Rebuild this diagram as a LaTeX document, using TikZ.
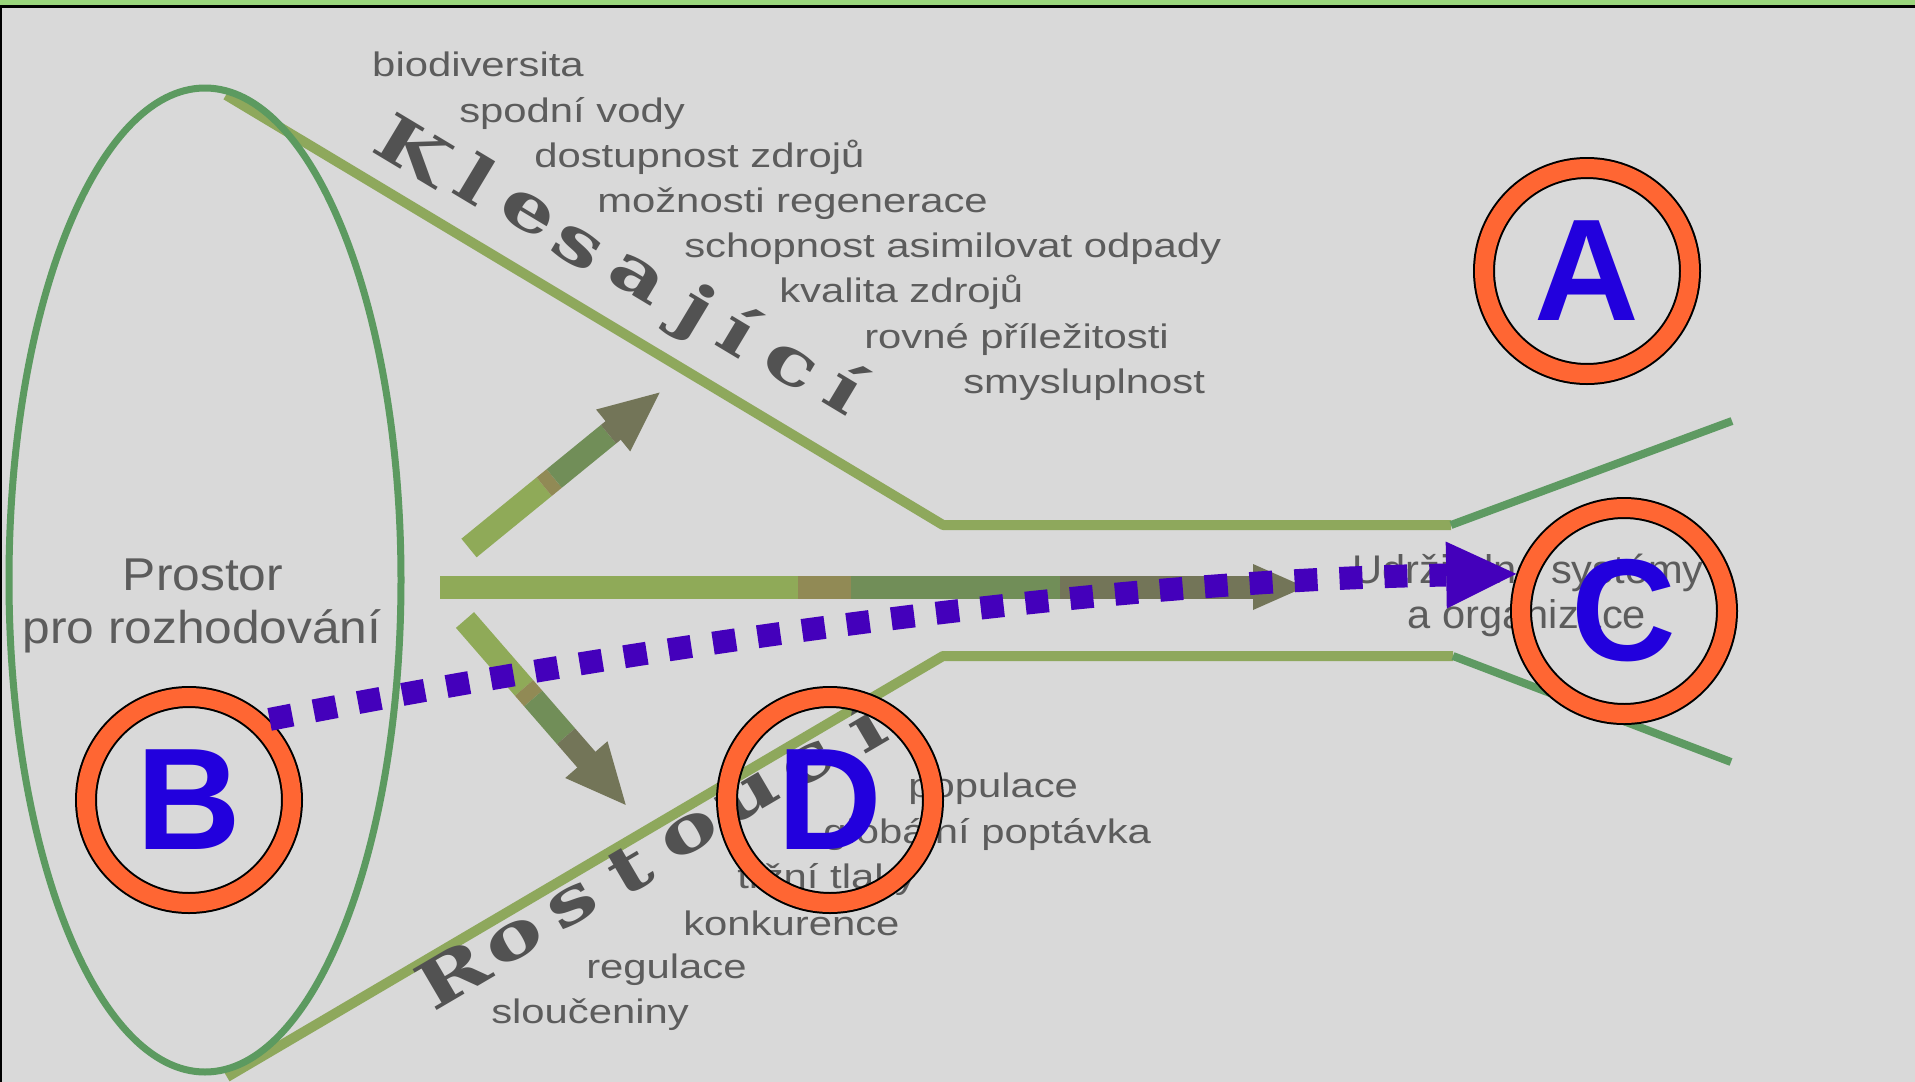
\documentclass[tikz,border=0pt]{standalone}
\usepackage{fontspec}
\setmainfont{Liberation Sans}
\newfontfamily\slabfont{DejaVu Serif}
\usetikzlibrary{arrows.meta}

\definecolor{bg}{HTML}{D9D9D9}
\definecolor{topbar}{HTML}{9AD67C}
\definecolor{funnelgreen}{HTML}{8EA85C}
\definecolor{flaregreen}{HTML}{5E9A62}
\definecolor{ellipsegreen}{HTML}{5C9A60}
\definecolor{txt}{HTML}{5C5C5C}
\definecolor{slabgray}{HTML}{525252}
\definecolor{ringorange}{HTML}{FF6633}
\definecolor{letterblue}{HTML}{2200DD}
\definecolor{routeviolet}{HTML}{4400BB}
\definecolor{lightshaft}{HTML}{8FAA58}
\definecolor{bandbrown}{HTML}{918A55}
\definecolor{midshaft}{HTML}{718E58}
\definecolor{oliveshaft}{HTML}{737558}

\tikzset{
  funnel/.style={draw=funnelgreen, line width=10pt, line join=round},
  flare/.style={draw=flaregreen, line width=8pt},
  listtext/.style={anchor=base west, inner sep=0pt, text=txt,
    font=\fontsize{34}{40}\selectfont, xscale=1.23},
  slab/.style={anchor=base, inner sep=0pt, text=slabgray, xscale=1.2, yscale=0.9,
    font=\slabfont\bfseries\fontsize{72}{72}\selectfont},
  badge/.style={circle, draw=black, line width=2pt, double=ringorange,
    double distance=18pt, minimum size=206pt, inner sep=0pt, outer sep=11pt,
    text=letterblue, font=\bfseries\fontsize{145}{145}\selectfont},
  route/.style={draw=routeviolet, line width=23pt, dash pattern=on 23pt off 22pt,
    -{Triangle[length=70pt, width=67pt, line width=0pt]}},
}

\begin{document}
\begin{tikzpicture}[x=1pt, y=-1pt]
\useasboundingbox (0,0) rectangle (1915,1082);
% page and frame
\fill[bg] (0,0) rectangle (1915,1082);
\fill[topbar] (0,0) rectangle (1915,5);
\fill[black] (0,5) rectangle (1915,7.5);
\fill[black] (0,5) rectangle (2,1082);

% funnel walls
\draw[funnel] (226,95) -- (943,525) -- (1451,525);
\draw[flare] (1451,525) -- (1732,421);
\draw[funnel] (227,1077) -- (943,656) -- (1453,656);
\draw[flare] (1453,656) -- (1731,762);

% decision space
\draw[ellipsegreen, line width=7pt] (205,580) ellipse [x radius=196pt, y radius=492pt];

% thick arrows leaving the decision space
\begin{scope}[shift={(469,548)}, rotate=39.2]
  \fill[lightshaft] (0,-12) rectangle (97,12);
  \fill[bandbrown] (97,-12) rectangle (110,12);
  \fill[midshaft] (110,-12) rectangle (180,12);
  \fill[oliveshaft] (180,-12) rectangle (187,12);
  \fill[oliveshaft] (186,-27) -- (246,0) -- (186,27) -- cycle;
\end{scope}
\begin{scope}[shift={(440,587)}]
  \fill[lightshaft] (0,-11.5) rectangle (358,11.5);
  \fill[bandbrown] (358,-11.5) rectangle (411,11.5);
  \fill[midshaft] (411,-11.5) rectangle (620,11.5);
  \fill[oliveshaft] (620,-11.5) rectangle (814,11.5);
  \fill[oliveshaft] (813,-23) -- (865,0) -- (813,23) -- cycle;
\end{scope}
\begin{scope}[shift={(465,620)}, rotate=-49]
  \fill[lightshaft] (0,-12) rectangle (90,12);
  \fill[bandbrown] (90,-12) rectangle (104,12);
  \fill[midshaft] (104,-12) rectangle (154,12);
  \fill[oliveshaft] (154,-12) rectangle (186,12);
  \fill[oliveshaft] (185,-28) -- (245,0) -- (185,28) -- cycle;
\end{scope}

% shrinking factors
\node[listtext] (t1) at (372,76) {biodiversita};
\node[listtext] (t2) at (459,122) {spodní vody};
\node[listtext] (t3) at (534,167) {dostupnost zdrojů};
\node[listtext] (t4) at (597,212) {možnosti regenerace};
\node[listtext] (t5) at (684,257) {schopnost asimilovat odpady};
\node[listtext] (t6) at (779,302) {kvalita zdrojů};
\node[listtext] (t7) at (864,348) {rovné příležitosti};
\node[listtext] (t8) at (963,393) {smysluplnost};

% growing factors
\node[listtext] (g1) at (908,797) {populace};
\node[listtext] (g2) at (823,843) {globální poptávka};
\node[listtext] (g3) at (737,888) {tržní tlaky};
\node[listtext] (g4) at (683,935) {konkurence};
\node[listtext] (g5) at (586,978) {regulace};
\node[listtext] (g6) at (491,1023) {sloučeniny};

% wall labels, letter by letter
\node[rotate=-31, slab] (k1) at (402,170) {K};
\node[rotate=-31, slab] (k2) at (464,200) {l};
\node[rotate=-31, slab] (k3) at (519,228) {e};
\node[rotate=-31, slab] (k4) at (568,262) {s};
\node[rotate=-31, slab] (k5) at (628,293) {a};
\node[rotate=-31, slab] (k6) at (685,329) {j};
\node[rotate=-31, slab] (k7) at (727,352) {í};
\node[rotate=-31, slab] (k8) at (781,381) {c};
\node[rotate=-31, slab] (k9) at (834,409) {í};

\node[rotate=30.4, slab] (r1) at (464,994) {R};
\node[rotate=30.4, slab] (r2) at (523,956) {o};
\node[rotate=30.4, slab] (r3) at (581,920) {s};
\node[rotate=30.4, slab] (r4) at (641,888) {t};
\node[rotate=30.4, slab] (r5) at (698,849) {o};
\node[rotate=30.4, slab] (r6) at (757,813) {u};
\node[rotate=30.4, slab] (r7) at (817,779) {c};
\node[rotate=30.4, slab] (r8) at (878,747) {í};

% space and goal labels
\node[anchor=base, inner sep=0pt, text=txt, font=\fontsize{46}{53}\selectfont, xscale=1.08] (p1) at (203,590) {Prostor};
\node[anchor=base, inner sep=0pt, text=txt, font=\fontsize{46}{53}\selectfont, xscale=1.08] (p2) at (202,643) {pro rozhodování};
\node[anchor=base, inner sep=0pt, text=txt, font=\fontsize{40}{45}\selectfont, xscale=1.04] (u1) at (1528,583) {Udržitelné systémy};
\node[anchor=base, inner sep=0pt, text=txt, font=\fontsize{40}{45}\selectfont, xscale=1.04] (u2) at (1527,628) {a organizace};

% lettered markers
\node[badge] (A) at (1587,271) {A};
\node[badge] (B) at (189,800) {B};
\node[badge] (C) at (1624,611) {C};
\node[badge] (D) at (830,800) {D};

% route from B to C
\draw[route] (B.45) .. controls (729,630) and (1145,580) .. (C.161);
\end{tikzpicture}
\end{document}
